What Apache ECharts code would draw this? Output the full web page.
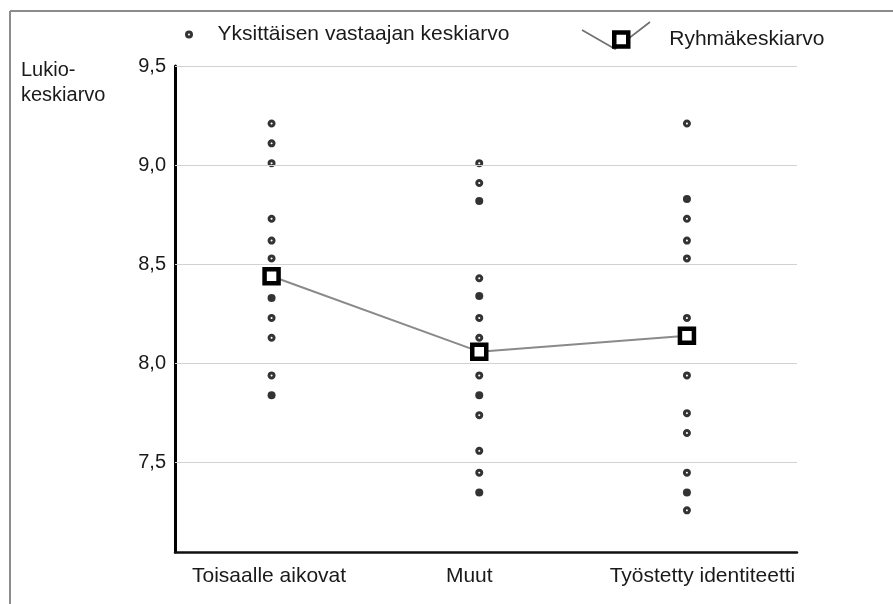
<!DOCTYPE html>
<html>
<head>
<meta charset="utf-8">
<script src="https://cdn.jsdelivr.net/npm/echarts@6/dist/echarts.min.js"></script>
<style>
html,body{margin:0;padding:0;background:#fff;}
#chart{width:893px;height:604px;}
</style>
</head>
<body>
<div id="chart"></div>
<script>
// ---- data ----
const categories = ['Toisaalle aikovat', 'Muut', 'Työstetty identiteetti'];
const yTicks = [7.5, 8.0, 8.5, 9.0, 9.5];
// individual respondent means (hollow markers)
const hollowToisaalle = [9.21, 9.11, 9.01, 8.73, 8.62, 8.53, 8.23, 8.13, 7.94];
const hollowMuut = [9.01, 8.91, 8.43, 8.23, 8.13, 7.94, 7.74, 7.56, 7.45];
const hollowTyostetty = [9.21, 8.73, 8.62, 8.53, 8.23, 7.94, 7.75, 7.65, 7.45, 7.26];
// individual respondent means (filled markers)
const filledToisaalle = [8.33, 7.84];
const filledMuut = [8.82, 8.34, 7.84, 7.35];
const filledTyostetty = [8.83, 7.35];
// group means
const groupMeans = [8.44, 8.06, 8.14];

const FONT = '"Liberation Sans", Arial, sans-serif';
const TXT = '#1a1a1a';

function toPoints(idx, arr) { return arr.map(v => [idx, v]); }
const hollowData = [].concat(
  toPoints(0, hollowToisaalle), toPoints(1, hollowMuut), toPoints(2, hollowTyostetty));
const filledData = [].concat(
  toPoints(0, filledToisaalle), toPoints(1, filledMuut), toPoints(2, filledTyostetty));
const meanData = groupMeans.map((v, i) => [i, v]);

const chart = echarts.init(document.getElementById('chart'), null, {renderer: 'canvas'});
const option = {
  animation: false,
  backgroundColor: '#fff',
  textStyle: {fontFamily: FONT},
  title: {
    text: 'Lukio-\nkeskiarvo',
    left: 21, top: 58, padding: 0,
    textStyle: {fontSize: 20, fontWeight: 'normal', color: TXT, fontFamily: FONT, lineHeight: 25}
  },
  legend: [
    {
      data: [{name: 'Yksittäisen vastaajan keskiarvo', icon: 'circle',
              itemStyle: {color: '#fff', borderColor: '#000', borderWidth: 3}}],
      left: 185, top: 24, padding: 0, itemWidth: 5, itemHeight: 5,
      selectedMode: false,
      textStyle: {fontSize: 21, color: TXT, fontFamily: FONT, padding: [0, 0, 0, 21]}
    },
    {
      data: [{name: 'Ryhmäkeskiarvo', icon: 'rect',
              itemStyle: {color: '#fff', borderColor: '#000', borderWidth: 4.5}}],
      left: 612, top: 29, padding: 0, itemWidth: 14, itemHeight: 14,
      selectedMode: false,
      textStyle: {fontSize: 21, color: TXT, fontFamily: FONT, padding: [0, 0, 0, 36]}
    }
  ],
  grid: {left: 175, right: 96, top: 66, bottom: 52, containLabel: false},
  xAxis: {
    type: 'value', min: -0.465, max: 2.53,
    axisLine: {show: true, lineStyle: {color: '#111', width: 2.5}},
    axisTick: {show: false},
    splitLine: {show: false},
    axisLabel: {
      customValues: [0, 1, 2],
      margin: 14,
      fontSize: 21, color: TXT, fontFamily: FONT,
      formatter: function (v) {
        const i = Math.round(v);
        return '{c' + i + '|' + categories[i] + '}';
      },
      rich: {
        c0: {fontSize: 21, color: TXT, fontFamily: FONT, padding: [0, 5, 0, 0]},
        c1: {fontSize: 21, color: TXT, fontFamily: FONT, padding: [0, 20, 0, 0]},
        c2: {fontSize: 21, color: TXT, fontFamily: FONT, padding: [0, 0, 0, 31]}
      }
    }
  },
  yAxis: {
    type: 'value', min: 7.05, max: 9.5,
    axisLine: {show: true, onZero: false, lineStyle: {color: '#000', width: 3}},
    axisTick: {show: false},
    splitLine: {show: false},
    axisLabel: {
      customValues: yTicks,
      margin: 9,
      fontSize: 20, color: TXT, fontFamily: FONT,
      formatter: v => v.toFixed(1).replace('.', ',')
    }
  },
  series: [
    {
      type: 'line', data: [], silent: true, z: 1,
      markLine: {
        silent: true, symbol: 'none', animation: false,
        label: {show: false},
        lineStyle: {color: '#d2d2d2', width: 1, type: 'solid'},
        emphasis: {disabled: true},
        data: yTicks.map(v => ({yAxis: v}))
      }
    },
    {
      name: 'Yksittäisen vastaajan keskiarvo', type: 'scatter', z: 3,
      symbol: 'circle', symbolSize: 5,
      itemStyle: {color: '#fff', borderColor: '#000', borderWidth: 3},
      emphasis: {disabled: true},
      data: hollowData
    },
    {
      name: 'Yksittäisen vastaajan keskiarvo', type: 'scatter', z: 3,
      symbol: 'circle', symbolSize: 8,
      itemStyle: {color: '#000'},
      emphasis: {disabled: true},
      data: filledData
    },
    {
      name: 'Ryhmäkeskiarvo', type: 'line', z: 4,
      symbol: 'rect', symbolSize: 14, showAllSymbol: true,
      lineStyle: {color: '#8a8a8a', width: 2},
      itemStyle: {color: '#fff', borderColor: '#000', borderWidth: 4.5},
      emphasis: {disabled: true},
      data: meanData
    }
  ],
  graphic: [
    {type: 'line', z: 0, shape: {x1: 10, y1: 11, x2: 893, y2: 11},
     style: {stroke: '#8c8c8c', lineWidth: 2}},
    {type: 'line', z: 0, shape: {x1: 10, y1: 11, x2: 10, y2: 604},
     style: {stroke: '#8c8c8c', lineWidth: 2}},
    {type: 'polyline', z: 1, shape: {points: [[582, 30], [615, 49], [650, 22]]},
     style: {stroke: '#6f6f6f', lineWidth: 1.6, fill: null}}
  ]
};
chart.setOption(option);
</script>
</body>
</html>
